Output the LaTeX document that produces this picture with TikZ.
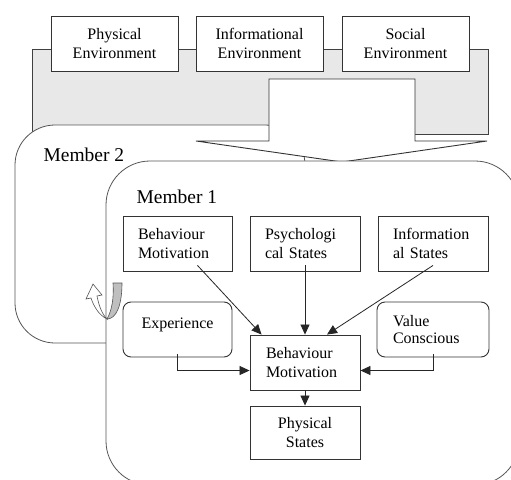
\documentclass[tikz,border=0pt]{standalone}
\usepackage{fontspec}
\setmainfont{Liberation Serif}
\usetikzlibrary{arrows.meta,positioning,calc}
\definecolor{bandgray}{HTML}{E8E8E8}
\definecolor{linegray}{HTML}{555555}

\begin{document}
\begin{tikzpicture}[x=1pt,y=-1pt,>={Triangle[length=10pt,width=9pt]},
  font=\fontsize{16}{19}\selectfont,
  envbox/.style={draw=black!80,fill=white,line width=0.9pt,minimum width=127pt,minimum height=55pt,align=center,inner sep=0pt},
  statebox/.style={draw=black!80,fill=white,line width=0.9pt,minimum width=110pt,minimum height=55pt,inner sep=0pt},
  leftbox/.style={statebox,align=left,text width=80pt,inner xsep=15pt},
  softbox/.style={statebox,rounded corners=8pt},
  member/.style={draw=linegray,fill=white,line width=0.8pt,rounded corners=42pt},
  link/.style={->,black!85,line width=0.8pt}]
\useasboundingbox (0,0) rectangle (511,479);
\clip (0,0) rectangle (511,479);
\draw[draw=black!75,fill=bandgray,line width=0.9pt] (32,49) rectangle (488,134);
\node[envbox] (pe) at (114.5,43.5) {Physical\\Environment};
\node[envbox] (ie) at (259.5,43.5) {Informational\\Environment};
\node[envbox] (se) at (405.5,43.5) {Social\\Environment};
\draw[member,rounded corners=40pt] (15,125) rectangle (305,343);
\draw[draw=black!80,fill=white,line width=0.9pt] (269,79) -- (415,79) -- (415,141) -- (487,141)
  -- (342,162) -- (196,141) -- (269,141) -- cycle;
\draw[member,rounded corners=44pt] (106,161) rectangle (519,485);
\node[anchor=west,font=\fontsize{19.5}{22}\selectfont] (m2) at (40,155) {Member 2};
\node[anchor=west,font=\fontsize{19.5}{22}\selectfont] (m1) at (133,197) {Member 1};
\node[leftbox,minimum width=109pt,text width=79pt] (bm0) at (177.5,243.5) {Behaviour\\Motivation};
\node[leftbox] (ps) at (305,243.5) {Psychologi\\cal States};
\node[leftbox] (is) at (433,243.5) {Information\\al States};
\node[softbox,minimum width=109pt,align=center,text height=11pt,text depth=13pt] (ex) at (177.5,329.5) {Experience};
\node[softbox,align=left,text width=80pt,inner xsep=16pt,font=\fontsize{16}{17}\selectfont] (vc) at (433,329.5) {Value\\Conscious};
\node[leftbox,inner xsep=16pt,text width=78pt] (bm) at (305,362.5) {Behaviour\\Motivation};
\node[statebox,align=center,minimum height=53pt] (ph) at (305,432.5) {Physical\\States};
\draw[link] ($(bm0.south)+(20,-6)$) -- ($(bm.north west)+(12,0)$);
\draw[link] ($(ps.south)+(0,-6)$) -- (bm.north);
\draw[link] ($(is.south)+(0,-6)$) -- ($(bm.north)+(22,0)$);
\draw[link] ($(ex.south)+(0,-3)$) |- ($(bm.west)+(0,8)$);
\draw[link] ($(vc.south)+(0,-3)$) |- ($(bm.east)+(0,8)$);
\draw[link] (bm) -- (ph);
\draw[linegray,fill=black!25,line width=0.6pt] (113,283) -- (122,283) .. controls (122,306) and (116,319) .. (107,319)
  .. controls (112,310) and (114,298) .. (113,283) -- cycle;
\draw[linegray,fill=white,line width=0.6pt] (107,319) .. controls (99,315) and (94,307) .. (91,298) -- (86,299)
  -- (93,284) -- (102,295) -- (97,296) .. controls (99,306) and (102,314) .. (107,319) -- cycle;
\end{tikzpicture}
\end{document}
